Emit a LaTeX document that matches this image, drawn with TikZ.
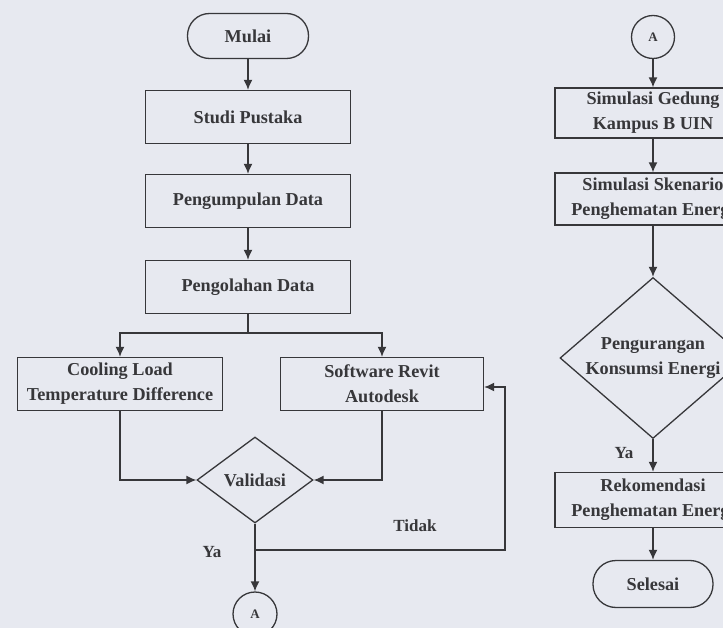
\documentclass[tikz,border=0pt]{standalone}
\usepackage{fontspec}
\setmainfont{Liberation Serif}
\usetikzlibrary{shapes.geometric,arrows.meta}
\definecolor{bg}{RGB}{231,233,240}
\definecolor{ink}{RGB}{55,55,58}
\tikzset{
  every node/.style={font=\fontsize{18.2}{25}\selectfont\bfseries, text=ink},
  stepbox/.style={draw=ink, line width=1.3pt, minimum width=205pt, minimum height=53pt, align=center, inner sep=1pt},
  rbox/.style={stepbox, minimum width=196pt},
  term/.style={draw=ink, line width=1.3pt, minimum width=121pt, minimum height=45pt, rounded corners=22pt},
  dec/.style={draw=ink, line width=1.3pt, shape=diamond, inner sep=0pt, align=center},
  conn/.style={draw=ink, line width=1.3pt, circle, minimum size=44pt, inner sep=0pt, font=\fontsize{13}{15}\selectfont\bfseries},
  arr/.style={draw=ink, line width=1.5pt, -{Latex[length=10pt,width=9pt]}},
  ln/.style={draw=ink, line width=1.5pt},
  lbl/.style={font=\fontsize{17}{19}\selectfont\bfseries}
}
\begin{document}
\begin{tikzpicture}[x=1pt,y=-1pt]
\useasboundingbox (0,0) rectangle (723,628);
\clip (0,0) rectangle (723,628);
\fill[bg] (0,0) rectangle (723,628);
% left column
\node[term] (mulai) at (248,36) {Mulai};
\node[stepbox] (studi) at (248,117) {Studi Pustaka};
\node[stepbox] (kumpul) at (248,201) {Pengumpulan Data};
\node[stepbox] (olah) at (248,287) {Pengolahan Data};
\node[stepbox] (cool) at (120,384) {Cooling Load\\Temperature Difference};
\node[stepbox, minimum width=203pt] (soft) at (382,384) {Software Revit\\Autodesk};
\node[dec, minimum width=116pt, minimum height=86pt, aspect=1.35] (val) at (255,480) {Validasi};
\node[conn] (a1) at (255,614) {A};
\coordinate (split) at (248,333);
\coordinate (br) at (255,550);
\coordinate (back) at (505,550);
\draw[arr] (mulai) -- (studi);
\draw[arr] (studi) -- (kumpul);
\draw[arr] (kumpul) -- (olah);
\draw[ln] (olah) -- (split);
\draw[arr] (split) -| (cool);
\draw[arr] (split) -| (soft);
\draw[arr] (cool) |- (val);
\draw[arr] (soft) |- (val);
\draw[ln] (val) -- (br);
\draw[arr] (br) -- (a1);
\draw[arr] (br) -- (back) |- ([yshift=-3pt]soft.east);
\node[lbl] (ya1) at (212,552) {Ya};
\node[lbl] (tidak) at (415,526) {Tidak};
% right column
\node[conn, minimum size=43pt] (a2) at (653,37) {A};
\node[rbox, minimum height=50pt] (r1) at (653,113) {Simulasi Gedung\\Kampus B UIN};
\node[rbox, minimum height=52pt] (r2) at (653,199) {Simulasi Skenario\\Penghematan Energi};
\node[dec, minimum width=186pt, minimum height=161pt, aspect=1.16] (r3) at (653,358) {Pengurangan\\Konsumsi Energi};
\node[rbox, minimum height=55pt] (r4) at (653,500) {Rekomendasi\\Penghematan Energi};
\node[term, minimum width=120pt, minimum height=47pt, rounded corners=23pt] (sel) at (653,584) {Selesai};
\draw[arr] (a2) -- (r1);
\draw[arr] (r1) -- (r2);
\draw[arr] (r2) -- (r3);
\draw[arr] (r3) -- (r4);
\draw[arr] (r4) -- (sel);
\node[lbl] (ya2) at (624,453) {Ya};
\end{tikzpicture}
\end{document}
